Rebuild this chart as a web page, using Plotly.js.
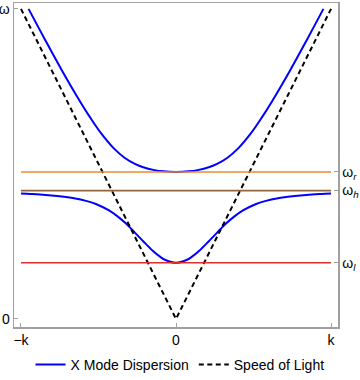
<!DOCTYPE html>
<html>
<head>
<meta charset="utf-8">
<script src="https://cdn.plot.ly/plotly-3.0.1.min.js"></script>
<style>html,body{margin:0;padding:0;background:#fff;}#chart{width:360px;height:380px;}</style>
</head>
<body>
<div id="chart"></div>
<script>
// Upper X-mode branch (k, omega)
var upperK = [-0.951,-0.844,-0.734,-0.617,-0.554,-0.485,-0.401,-0.332,-0.265,-0.216,-0.139,-0.083,0,0.083,0.139,0.216,0.265,0.332,0.401,0.485,0.554,0.617,0.734,0.844,0.951];
var upperW = [1.0,0.9,0.8,0.7,0.65,0.6,0.55,0.52,0.5,0.49,0.48,0.476,0.474,0.476,0.48,0.49,0.5,0.52,0.55,0.6,0.65,0.7,0.8,0.9,1.0];
// Lower X-mode branch
var lowerK = [-1.0,-0.937,-0.842,-0.736,-0.666,-0.574,-0.513,-0.432,-0.375,-0.328,-0.293,-0.268,-0.210,-0.150,-0.101,-0.068,0,0.068,0.101,0.150,0.210,0.268,0.293,0.328,0.375,0.432,0.513,0.574,0.666,0.736,0.842,0.937,1.0];
var lowerW = [0.4045,0.403,0.40,0.395,0.39,0.38,0.37,0.35,0.33,0.31,0.293,0.28,0.25,0.22,0.2,0.19,0.181,0.19,0.2,0.22,0.25,0.28,0.293,0.31,0.33,0.35,0.37,0.38,0.39,0.395,0.40,0.403,0.4045];
// Speed of light
var lightK = [-1, 0, 1];
var lightW = [1, 0, 1];
// Characteristic frequencies
var lineK = [-1, 1];
var omegaR = 0.474, omegaH = 0.414, omegaL = 0.181;
var xTickVals = [-1, 0, 1], xTickText = ['\u2212k', '0', 'k'];
var yTickVals = [0, 1], yTickText = ['0', '\u03c9'];
var rTickVals = [omegaR, omegaH, omegaL];
var rTickText = ['\u03c9<sub><i>r</i></sub>', '\u03c9<sub><i>h</i></sub>', '\u03c9<sub><i>l</i></sub>'];

var yr = [-0.026, 1.019];
var traces = [
  {x: lineK, y: [omegaR, omegaR], yaxis: 'y2', mode: 'lines', line: {color: 'rgb(235,140,50)', width: 1.6}, showlegend: false, hoverinfo: 'skip'},
  {x: lineK, y: [omegaH, omegaH], yaxis: 'y2', mode: 'lines', line: {color: 'rgb(145,100,60)', width: 1.8}, showlegend: false, hoverinfo: 'skip'},
  {x: lineK, y: [omegaL, omegaL], yaxis: 'y2', mode: 'lines', line: {color: 'rgb(225,45,45)', width: 1.6}, showlegend: false, hoverinfo: 'skip'},
  {x: upperK, y: upperW, mode: 'lines', name: 'X Mode Dispersion', legendgroup: 'x', legendrank: 1, line: {color: '#0000ff', width: 2, shape: 'spline', smoothing: 1}},
  {x: lowerK, y: lowerW, mode: 'lines', name: 'X Mode Dispersion', legendgroup: 'x', showlegend: false, line: {color: '#0000ff', width: 2, shape: 'spline', smoothing: 1}},
  {x: lightK, y: lightW, mode: 'lines', name: 'Speed of Light', legendrank: 2, line: {color: '#000', width: 2, dash: '5px,3.5px'}}
];

var axisCommon = {
  showline: true, linecolor: '#a0a0a0', linewidth: 1.5, mirror: false,
  ticks: 'inside', ticklen: 4, tickwidth: 1, tickcolor: '#a0a0a0',
  showgrid: false, zeroline: false, tickfont: {size: 14, color: '#000'}, fixedrange: true
};
var layout = {
  width: 360, height: 380,
  margin: {l: 14, r: 22, t: 3, b: 53},
  paper_bgcolor: '#fff', plot_bgcolor: '#fff',
  font: {family: 'Liberation Sans, Arial, sans-serif', size: 13, color: '#000'},
  xaxis: Object.assign({}, axisCommon, {range: [-1.045, 1.045], tickmode: 'array', tickvals: xTickVals, ticktext: xTickText, mirror: true}),
  yaxis: Object.assign({}, axisCommon, {range: yr, tickmode: 'array', tickvals: yTickVals, ticktext: yTickText, ticklabelstandoff: 0}),
  yaxis2: Object.assign({}, axisCommon, {range: yr, overlaying: 'y', side: 'right', tickmode: 'array', tickvals: rTickVals, ticktext: rTickText}),
  legend: {orientation: 'h', xref: 'container', x: 0.5, xanchor: 'center', yref: 'container', y: 0.04, yanchor: 'middle', font: {size: 14}, bgcolor: 'rgba(0,0,0,0)'},
  showlegend: true
};
Plotly.newPlot('chart', traces, layout, {displayModeBar: false, staticPlot: true});
</script>
</body>
</html>
